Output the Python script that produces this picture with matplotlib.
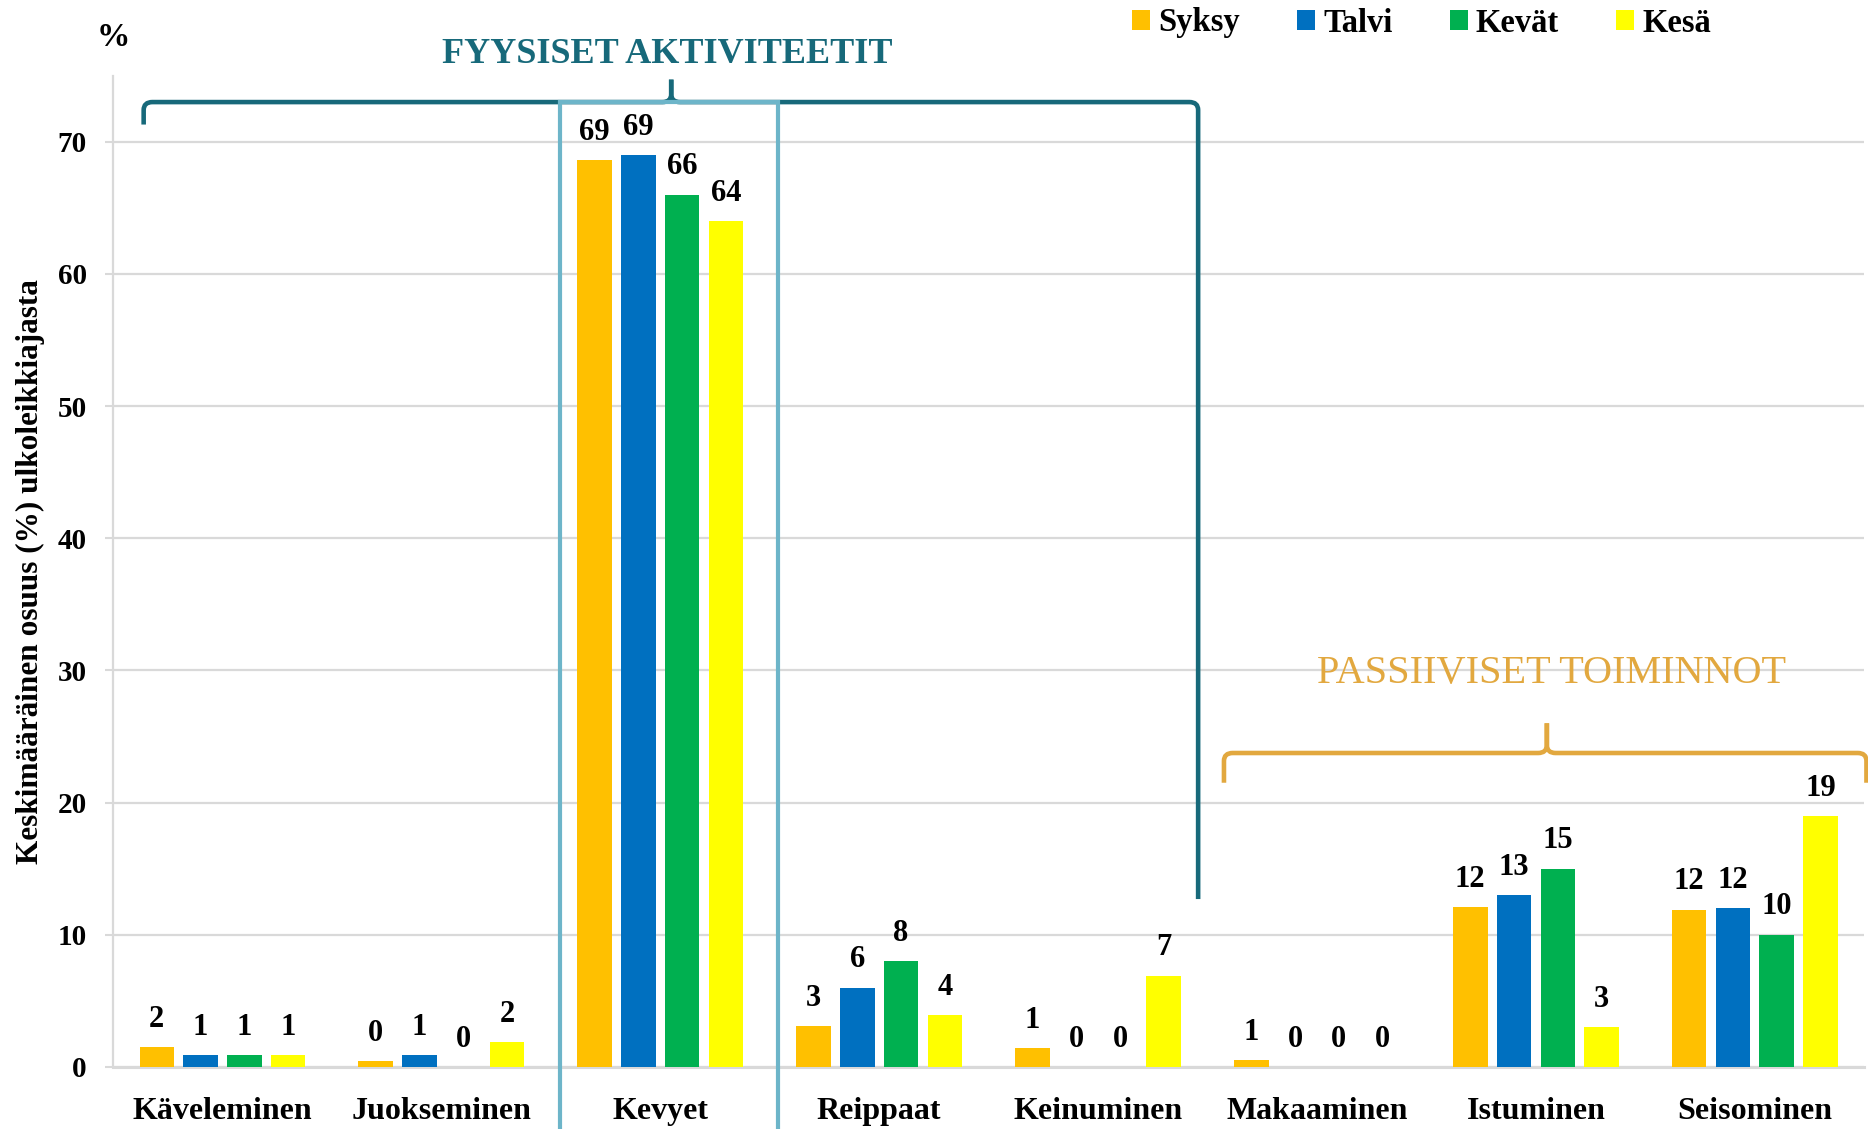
import math
import numpy as np
import matplotlib
matplotlib.use("Agg")
import matplotlib.pyplot as plt
from matplotlib.path import Path
from matplotlib.patches import PathPatch, Patch, Rectangle

categories = ["Käveleminen", "Juokseminen", "Kevyet", "Reippaat",
              "Keinuminen", "Makaaminen", "Istuminen", "Seisominen"]
series_names = ["Syksy", "Talvi", "Kevät", "Kesä"]
syksy = [1.5, 0.45, 68.6, 3.1, 1.4, 0.5, 12.1, 11.9]
talvi = [0.9, 0.9, 69.0, 6.0, 0.0, 0.0, 13.0, 12.0]
kevat = [0.9, 0.0, 66.0, 8.0, 0.0, 0.0, 15.0, 10.0]
kesa = [0.9, 1.9, 64.0, 3.9, 6.9, 0.0, 3.0, 19.0]
yticks = [0, 10, 20, 30, 40, 50, 60, 70]

colors = ["#FFC000", "#0070C0", "#00B050", "#FFFF00"]
TEAL = "#17697A"
LIGHTBLUE = "#6DB5C9"
GOLD = "#E2A83F"
GRID = "#D9D9D9"
FONT = "Liberation Serif"

plt.rcParams["font.family"] = FONT

fig = plt.figure(figsize=(18.68, 11.29), dpi=100)
ax = fig.add_axes([0.0605, 0.055, 0.9375, 0.878])

series = [syksy, talvi, kevat, kesa]
x = np.arange(len(categories))
offsets = [-0.3, -0.1, 0.1, 0.3]
width = 0.158
for vals, off, col in zip(series, offsets, colors):
    ax.bar(x + off, vals, width, color=col, zorder=3)
    for xi, v in zip(x + off, vals):
        lab = str(int(math.floor(v + 0.5)))
        ax.annotate(lab, (xi, v), xytext=(0, 20), textcoords="offset points",
                    ha="center", va="center", fontsize=22, fontweight="bold",
                    color="black", zorder=5)

ax.set_xlim(-0.5, len(categories) - 0.5)
ax.set_ylim(0, 75)
ax.set_yticks(yticks)
ax.set_yticklabels([str(t) for t in yticks], fontsize=21, fontweight="bold")
ax.set_xticks(x)
ax.set_xticklabels(categories, fontsize=23, fontweight="bold")
ax.tick_params(axis="x", length=0, pad=22)
ax.tick_params(axis="y", length=6, width=1.5, color=GRID, pad=13)
ax.grid(axis="y", color=GRID, lw=1.6, zorder=0)
ax.set_axisbelow(True)
for s in ["top", "right"]:
    ax.spines[s].set_visible(False)
ax.spines["left"].set_color(GRID)
ax.spines["left"].set_linewidth(1.6)
ax.spines["bottom"].set_color(GRID)
ax.spines["bottom"].set_linewidth(2.2)

ax.set_ylabel("Keskimääräinen osuus (%) ulkoleikkiajasta", fontsize=22.5,
              fontweight="bold")
ax.yaxis.set_label_coords(-0.039, 0.5)

fig.text(113 / 1868, 1 - 37 / 1129, "%", fontsize=24, fontweight="bold",
         ha="center", va="center")

# legend
handles = [Patch(facecolor=c, edgecolor="none") for c in colors]
fig.legend(handles, series_names, loc="center", bbox_to_anchor=(0.761, 1 - 23 / 1129),
           ncol=4, frameon=False, handlelength=0.55, handleheight=0.55,
           handletextpad=0.25, columnspacing=1.75,
           prop={"family": FONT, "size": 23.5, "weight": "bold"})


def brace(xl, xr, xt, yh, yend_l, yend_r, ytip, color, lw, rx=0.04, ry=0.6):
    verts = [(xl, yend_l), (xl, yh - ry), (xl, yh), (xl + rx, yh),
             (xt - rx, yh), (xt, yh), (xt, yh + ry), (xt, ytip)]
    codes = [Path.MOVETO, Path.LINETO, Path.CURVE3, Path.CURVE3,
             Path.LINETO, Path.CURVE3, Path.CURVE3, Path.LINETO]
    ax.add_patch(PathPatch(Path(verts, codes), fill=False, ec=color, lw=lw,
                           clip_on=False, zorder=6, capstyle="butt",
                           joinstyle="round"))
    verts = [(xt, ytip), (xt, yh + ry), (xt, yh), (xt + rx, yh),
             (xr - rx, yh), (xr, yh), (xr, yh - ry), (xr, yend_r)]
    ax.add_patch(PathPatch(Path(verts, codes), fill=False, ec=color, lw=lw,
                           clip_on=False, zorder=6, capstyle="butt",
                           joinstyle="round"))


# Kevyet highlight rectangle
ax.add_patch(Rectangle((1.54, -6), 1.0, 79.0, fill=False, ec=LIGHTBLUE, lw=3.0,
                       clip_on=False, zorder=7))

brace(-0.36, 4.457, 2.05, 73.0, 71.3, 12.7, 74.7, TEAL, 3.3)
ax.text(2.03, 76.6, "FYYSISET AKTIVITEETIT", color=TEAL, fontsize=26,
        fontweight="bold", ha="center", va="center", clip_on=False)

brace(4.575, 7.51, 6.05, 23.75, 21.5, 21.5, 26.0, GOLD, 3.3)
ax.text(6.07, 29.8, "PASSIIVISET TOIMINNOT", color=GOLD, fontsize=29,
        ha="center", va="center", clip_on=False)

fig.savefig("out.png", dpi=100)
